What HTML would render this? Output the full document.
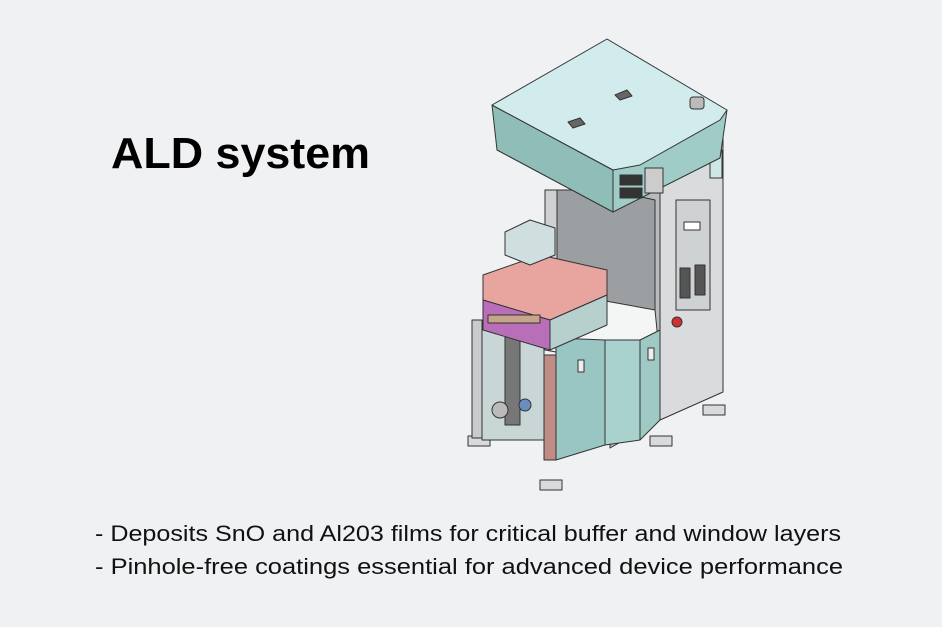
<!DOCTYPE html>
<html><head><meta charset="utf-8"><style>
html,body{margin:0;padding:0;background:#f0f1f3;}
svg{display:block}
</style></head><body>
<svg width="942" height="627" viewBox="0 0 942 627" xmlns="http://www.w3.org/2000/svg">
<rect width="942" height="627" fill="#f0f1f3"/>
<text x="111" y="168" font-family="Liberation Sans, sans-serif" font-weight="bold" font-size="44" textLength="259" lengthAdjust="spacingAndGlyphs" fill="#000">ALD system</text>
<text x="95" y="541" font-family="Liberation Sans, sans-serif" font-size="22" textLength="746" lengthAdjust="spacingAndGlyphs" fill="#111">- Deposits SnO and Al203 films for critical buffer and window layers</text>
<text x="95" y="574" font-family="Liberation Sans, sans-serif" font-size="22" textLength="748" lengthAdjust="spacingAndGlyphs" fill="#111">- Pinhole-free coatings essential for advanced device performance</text>

<g stroke="#333" stroke-width="1" stroke-linejoin="round">
<!-- feet -->
<g fill="#d8dadc">
<rect x="468" y="436" width="22" height="10"/><rect x="540" y="480" width="22" height="10"/>
<rect x="650" y="436" width="22" height="10"/><rect x="703" y="405" width="22" height="10"/>
</g>
<!-- right tower -->
<polygon points="610,190 660,162 660,420 610,448" fill="#b9bcbe"/>
<polygon points="660,162 723,125 723,392 660,420" fill="#d9dbdc"/>
<rect x="676" y="200" width="34" height="110" fill="#cfd2d3"/>
<rect x="684" y="222" width="16" height="8" fill="#fff"/>
<rect x="680" y="268" width="10" height="30" fill="#555"/><rect x="695" y="265" width="10" height="30" fill="#555"/>
<circle cx="677" cy="322" r="5" fill="#d03030"/>
<rect x="710" y="150" width="12" height="28" fill="#cde7e6"/>
<!-- middle back gray -->
<polygon points="545,190 610,190 655,200 655,325 545,300" fill="#9c9fa1"/>
<rect x="545" y="190" width="12" height="120" fill="#cfd1d2"/>
<!-- lower cabinet white top -->
<polygon points="545,320 600,300 655,310 660,360 600,360 545,350" fill="#f4f5f5"/>
<!-- lower cabinet teal -->
<polygon points="556,338 605,340 605,445 556,460" fill="#99c6c2"/>
<polygon points="605,340 640,340 640,440 605,445" fill="#a9d1cd"/>
<polygon points="640,340 660,330 660,420 640,440" fill="#9ec9c5"/>
<rect x="578" y="360" width="6" height="12" fill="#eee"/><rect x="648" y="348" width="6" height="12" fill="#eee"/>
<rect x="544" y="355" width="12" height="105" fill="#c08c86"/>
<!-- left plumbing -->
<rect x="472" y="320" width="10" height="118" fill="#c9cbcc"/>
<rect x="482" y="330" width="62" height="110" fill="#c8d6d6"/>
<rect x="505" y="335" width="15" height="90" fill="#777"/>
<circle cx="500" cy="410" r="8" fill="#bbb"/><circle cx="525" cy="405" r="6" fill="#6a8ec0"/>
<!-- pink chamber -->
<polygon points="483,275 540,255 607,270 607,295 550,320 483,300" fill="#e8a59f"/>
<polygon points="483,300 550,320 550,350 483,330" fill="#b86fb8"/>
<polygon points="550,320 607,295 607,325 550,350" fill="#b7cfcd"/>
<rect x="488" y="315" width="52" height="8" fill="#c7a58a"/>
<!-- top module box -->
<polygon points="505,232 530,220 555,228 555,255 530,265 505,255" fill="#cfdfe0"/>
<!-- top lid -->
<polygon points="492,105 497,150 613,212 613,170" fill="#8fbdb8"/>
<polygon points="613,170 613,212 720,158 727,110" fill="#9fccc7"/>
<polygon points="492,105 607,39 727,110 720,120 640,165 613,170" fill="#d2ebec"/>
<rect x="620" y="175" width="22" height="10" fill="#333"/><rect x="620" y="188" width="22" height="10" fill="#333"/>
<rect x="645" y="168" width="18" height="25" fill="#ccc"/>
<polygon points="568,122 580,118 585,124 573,128" fill="#666"/>
<polygon points="615,95 627,90 632,96 620,100" fill="#666"/>
<rect x="690" y="97" width="14" height="12" rx="3" fill="#bbb"/>
</g>
</svg>
</body></html>
